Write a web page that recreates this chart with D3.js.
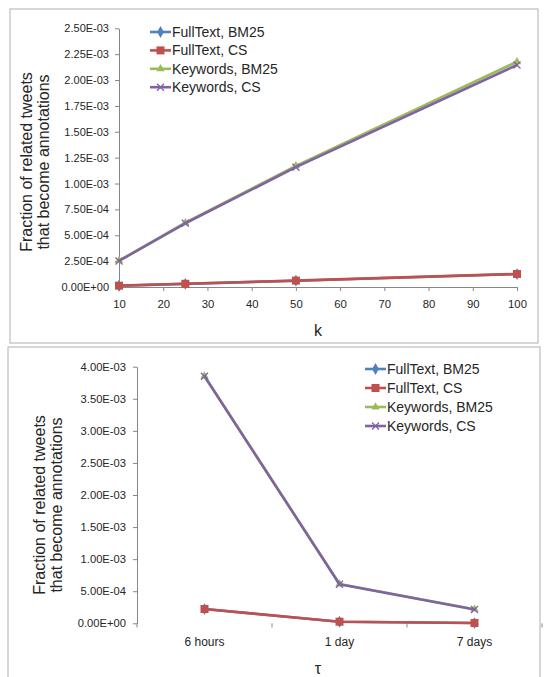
<!DOCTYPE html>
<html lang="en">
<head>
<meta charset="UTF-8">
<title>Fraction of related tweets</title>
<script src="https://cdn.jsdelivr.net/npm/d3@7"></script>
<style>
    body { margin: 0; background: #fff; }
    svg text { font-family: "Liberation Sans", Arial, sans-serif; fill: #262626; }
    .frame { fill: none; stroke: #bdbdbd; stroke-width: 1.2; }
    .axis path, .axis line { stroke: #868686; stroke-width: 1; }
</style>
</head>
<body>
<div id="chart"></div>
<script>
"use strict";

// ---- data ----
var seriesNames = ["FullText, BM25", "FullText, CS", "Keywords, BM25", "Keywords, CS"];
var seriesColors = ["#4F81BD", "#C0504D", "#9BBB59", "#8064A2"];
var seriesMarkers = ["diamond", "square", "triangle", "cross"];

// top chart: k
var kValues = [10, 25, 50, 100];
var kFullTextBM25 = [0.000012, 0.000030, 0.000061, 0.000125];
var kFullTextCS   = [0.000013, 0.000031, 0.000062, 0.000126];
var kKeywordsBM25 = [0.000254, 0.000621, 0.001170, 0.002177];
var kKeywordsCS   = [0.000252, 0.000616, 0.001158, 0.002145];
var kXTicks = [10, 20, 30, 40, 50, 60, 70, 80, 90, 100];
var kYTicks = [0, 0.00025, 0.0005, 0.00075, 0.001, 0.00125, 0.0015, 0.00175, 0.002, 0.00225, 0.0025];

// bottom chart: tau
var tauLabels = ["6 hours", "1 day", "7 days"];
var tauFullTextBM25 = [0.000222, 0.000024, 0.000004];
var tauFullTextCS   = [0.000223, 0.000025, 0.000005];
var tauKeywordsBM25 = [0.003855, 0.000613, 0.000220];
var tauKeywordsCS   = [0.003850, 0.000610, 0.000216];
var tauYTicks = [0, 0.0005, 0.001, 0.0015, 0.002, 0.0025, 0.003, 0.0035, 0.004];

function sci(v) {
    if (v === 0) return "0.00E+00";
    var e = Math.floor(Math.log10(v) + 1e-9);
    var m = +(v / Math.pow(10, e)).toFixed(2);
    if (m >= 10) { m = m / 10; e += 1; }
    return m.toFixed(2) + "E" + (e < 0 ? "-" : "+") + String(Math.abs(e)).padStart(2, "0");
}

var svg = d3.select("#chart").append("svg")
    .attr("width", 544)
    .attr("height", 677);

function marker(g, type, x, y, color) {
    if (type === "square") {
        g.append("rect").attr("x", x - 4).attr("y", y - 4).attr("width", 8).attr("height", 8)
            .attr("fill", color);
    } else if (type === "diamond") {
        g.append("path").attr("d", d3.symbol(d3.symbolDiamond, 40)())
            .attr("transform", "translate(" + x + "," + y + ")").attr("fill", color);
    } else if (type === "triangle") {
        g.append("path").attr("d", d3.symbol(d3.symbolTriangle, 30)())
            .attr("transform", "translate(" + x + "," + y + ")").attr("fill", color);
    } else {
        g.append("path").attr("d", "M-3.5,-3.5L3.5,3.5M-3.5,3.5L3.5,-3.5")
            .attr("transform", "translate(" + x + "," + y + ")")
            .attr("stroke", color).attr("stroke-width", 1.3).attr("fill", "none");
    }
}

function drawSeries(g, xs, series, x, y) {
    var line = d3.line()
        .x(function(d, i) { return x(xs[i]); })
        .y(function(d) { return y(d); });
    series.forEach(function(vals, s) {
        g.append("path")
            .datum(vals)
            .attr("d", line)
            .attr("fill", "none")
            .attr("stroke", seriesColors[s])
            .attr("stroke-width", 2.6)
            .attr("stroke-linejoin", "round");
        vals.forEach(function(v, i) {
            marker(g, seriesMarkers[s], x(xs[i]), y(v), seriesColors[s]);
        });
    });
}

function legend(g, x0, y0, step) {
    seriesNames.forEach(function(name, i) {
        var yy = y0 + i * step;
        g.append("line").attr("x1", x0).attr("x2", x0 + 21).attr("y1", yy).attr("y2", yy)
            .attr("stroke", seriesColors[i]).attr("stroke-width", 2.6);
        marker(g, seriesMarkers[i], x0 + 10.5, yy, seriesColors[i]);
        g.append("text").attr("x", x0 + 22).attr("y", yy).attr("dy", "0.35em")
            .style("font-size", "14px").text(name);
    });
}

function yTitle(g, cx, cy, gap) {
    var t = g.append("text")
        .attr("transform", "translate(" + cx + "," + cy + ") rotate(-90)")
        .attr("text-anchor", "middle")
        .style("font-size", "16px");
    t.append("tspan").attr("x", 0).attr("y", 0).text("Fraction of related tweets");
    t.append("tspan").attr("x", 0).attr("y", gap).text("that become annotations");
}

// ---------- top panel ----------
var topPanel = svg.append("g");
topPanel.append("rect").attr("class", "frame").attr("x", 10).attr("y", 9).attr("width", 528).attr("height", 334);

var xk = d3.scaleLinear().domain([10, 100]).range([119, 517]);
var yk = d3.scaleLinear().domain([0, 0.0025]).range([287, 28.3]);

topPanel.append("g").attr("class", "axis")
    .attr("transform", "translate(0,287)")
    .call(d3.axisBottom(xk).tickValues(kXTicks).tickSize(4).tickSizeOuter(0).tickPadding(9))
    .call(function(a) { a.selectAll("text").style("font-size", "11.3px").attr("fill", "#262626"); });

topPanel.append("g").attr("class", "axis")
    .attr("transform", "translate(119,0)")
    .call(d3.axisLeft(yk).tickValues(kYTicks).tickFormat(sci).tickSize(4).tickSizeOuter(0).tickPadding(6))
    .call(function(a) { a.selectAll("text").style("font-size", "11px").attr("fill", "#262626"); });

drawSeries(topPanel, kValues, [kFullTextBM25, kFullTextCS, kKeywordsBM25, kKeywordsCS], xk, yk);
legend(topPanel, 150, 32, 18.4);
yTitle(topPanel, 31.5, 162, 17);
topPanel.append("text").attr("x", 318).attr("y", 336).attr("text-anchor", "middle")
    .style("font-size", "16px").text("k");

// ---------- bottom panel ----------
var botPanel = svg.append("g");
botPanel.append("rect").attr("class", "frame").attr("x", 8).attr("y", 347).attr("width", 532).attr("height", 340);

var xt = d3.scaleBand().domain(tauLabels).range([137, 542]);
var yt = d3.scaleLinear().domain([0, 0.004]).range([623.3, 366.7]);
var xc = function(d) { return xt(d) + xt.bandwidth() / 2; };

// category boundary ticks, no baseline
var bounds = tauLabels.map(function(d) { return xt(d); }).concat([xt.range()[1]]);
botPanel.append("g").selectAll("line").data(bounds).enter().append("line")
    .attr("x1", function(d) { return d; }).attr("x2", function(d) { return d; })
    .attr("y1", 623.3).attr("y2", 627.5)
    .attr("stroke", "#868686");
botPanel.append("g").selectAll("text").data(tauLabels).enter().append("text")
    .attr("x", xc).attr("y", 642).attr("dy", "0.35em").attr("text-anchor", "middle")
    .style("font-size", "12px").text(function(d) { return d; });

botPanel.append("g").attr("class", "axis")
    .attr("transform", "translate(137,0)")
    .call(d3.axisLeft(yt).tickValues(tauYTicks).tickFormat(sci).tickSize(4).tickSizeOuter(0).tickPadding(7))
    .call(function(a) { a.selectAll("text").style("font-size", "11.2px").attr("fill", "#262626"); });

drawSeries(botPanel, tauLabels, [tauFullTextBM25, tauFullTextCS, tauKeywordsBM25, tauKeywordsCS],
    xc, yt);
legend(botPanel, 365, 369, 19);
yTitle(botPanel, 44.5, 505, 17);
botPanel.append("text").attr("x", 318).attr("y", 674).attr("text-anchor", "middle")
    .style("font-size", "16px").text("τ");
</script>
</body>
</html>
